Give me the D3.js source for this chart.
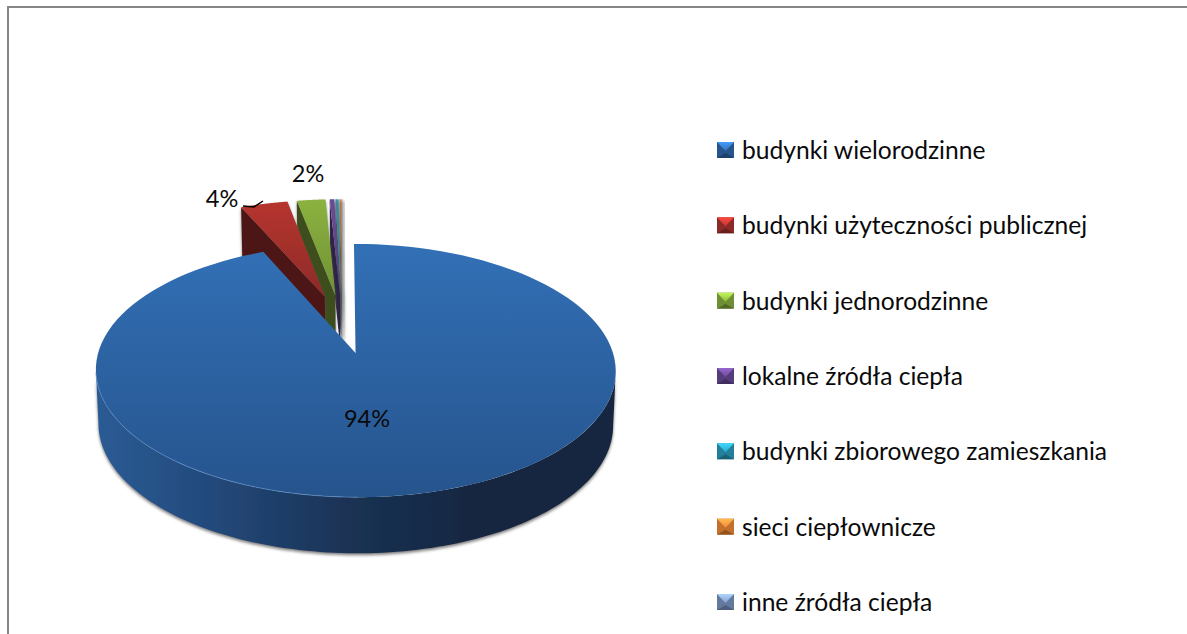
<!DOCTYPE html>
<html>
<head>
<meta charset="utf-8">
<script src="https://cdn.jsdelivr.net/npm/d3@7"></script>
<style>
  html, body { margin: 0; padding: 0; background: #fff; overflow: hidden; }
  text { font-family: Lato, "Open Sans", sans-serif; fill: #0a0a0a; }
</style>
</head>
<body>
<script>
const categories = ["budynki wielorodzinne", "budynki użyteczności publicznej", "budynki jednorodzinne",
    "lokalne źródła ciepła", "budynki zbiorowego zamieszkania", "sieci ciepłownicze", "inne źródła ciepła"];
const values = [93.5, 3.55, 2.15, 0.35, 0.25, 0.17, 0.03];
const shownLabels = [true, true, true, false, false, false, false];

function main(){
    const width = 1187, height = 634;

    const topColors = ["#3270b6", "#b8352f", "#8cb33f", "#6b4a96", "#2a9fc2", "#e8873a", "#7f9ac6"];
    const bottomColors = ["#26548d", "#8c2a28", "#6f8f35", "#573c7c", "#237f9c", "#c46f2c", "#64799e"];
    const wallColors = ["#1a3050", "#4d1513", "#3d4d1c", "#2e2045", "#134858", "#6a3a10", "#3a4860"];

    // perspective of the pie plane, fitted on the picture
    const x0 = 342.5, y0 = 323.6, R = 249, Y = 116.2, p = 0.134, explode = 0.25;
    const project = (u, v) => {
        const w = 1 - p * v;
        return [x0 + R * u / w, y0 + Y * v / w];
    };
    const depthAt = v => 53 + 2.5 * v;
    const lower = (u, v) => {
        const pt = project(u, v);
        return [356 + (pt[0] - 356) * 0.99, pt[1] + depthAt(v)];
    };

    const svg = d3.select("body").append("svg")
        .attr("width", width)
        .attr("height", height)
        .style("display", "block");

    const defs = svg.append("defs");

    const shadow = defs.append("filter").attr("id", "shadow")
        .attr("x", "-20%").attr("y", "-20%").attr("width", "140%").attr("height", "140%");
    shadow.append("feDropShadow").attr("dx", 0).attr("dy", 2).attr("stdDeviation", 1.6)
        .attr("flood-color", "#555").attr("flood-opacity", 0.75);

    const sideShadow = defs.append("filter").attr("id", "sideShadow")
        .attr("x", "-100%").attr("y", "-20%").attr("width", "300%").attr("height", "140%");
    sideShadow.append("feDropShadow").attr("dx", 3).attr("dy", 2).attr("stdDeviation", 1.5)
        .attr("flood-color", "#666").attr("flood-opacity", 0.6);

    const blur = defs.append("filter").attr("id", "rimBlur");
    blur.append("feGaussianBlur").attr("stdDeviation", 0.5);

    categories.forEach((c, i) => {
        const g = defs.append("linearGradient").attr("id", "face" + i)
            .attr("gradientUnits", "userSpaceOnUse")
            .attr("x1", 0).attr("x2", 0)
            .attr("y1", i === 0 ? 244 : 197).attr("y2", i === 0 ? 497 : 300);
        g.append("stop").attr("offset", 0).attr("stop-color", topColors[i]);
        g.append("stop").attr("offset", 1).attr("stop-color", bottomColors[i]);

        const m = defs.append("linearGradient").attr("id", "mark" + i)
            .attr("x1", 0).attr("x2", 0).attr("y1", 0).attr("y2", 1);
        m.append("stop").attr("offset", 0).attr("stop-color", d3.color(topColors[i]).brighter(0.9));
        m.append("stop").attr("offset", 1).attr("stop-color", d3.color(topColors[i]).brighter(0.1));
    });

    const wallGrad = defs.append("linearGradient").attr("id", "wall0")
        .attr("gradientUnits", "userSpaceOnUse")
        .attr("x1", 97).attr("x2", 616).attr("y1", 0).attr("y2", 0);
    [[0, "#2b5b94"], [0.2, "#234b7e"], [0.5, "#1a3152"], [0.75, "#12263f"], [1, "#14283f"]].forEach(s => {
        wallGrad.append("stop").attr("offset", s[0]).attr("stop-color", s[1]);
    });

    svg.append("path")
        .attr("d", d3.line()([[8, height], [8, 7], [width, 7]]))
        .attr("fill", "none")
        .attr("stroke", "#868686")
        .attr("stroke-width", 2);

    const pie = d3.pie().sort(null).value(d => d);
    const arcs = pie(values);
    const line = d3.line();

    arcs.forEach(a => {
        const mid = (a.startAngle + a.endAngle) / 2;
        a.cu = explode * Math.sin(mid);
        a.cv = -explode * Math.cos(mid);
        a.rim = t => [a.cu + Math.sin(t), a.cv - Math.cos(t)];
    });

    const sample = (a, from, to) => d3.range(0, 121).map(k => a.rim(from + (to - from) * k / 120));

    const chart = svg.append("g");

    // back slices first, the far right one first, blue last
    d3.range(arcs.length - 1, 0, -1).forEach(i => {
        const a = arcs[i];
        const g = chart.append("g").attr("filter", i > 2 ? "url(#sideShadow)" : "url(#shadow)");
        const corner = a.rim(a.startAngle);
        g.append("path")
            .attr("d", line([project(...corner), project(a.cu, a.cv), lower(a.cu, a.cv), lower(...corner)]) + "Z")
            .attr("fill", wallColors[i]);
        const face = [project(a.cu, a.cv)].concat(sample(a, a.startAngle, a.endAngle).map(q => project(...q)));
        g.append("path")
            .attr("d", line(face) + "Z")
            .attr("fill", "url(#face" + i + ")");
    });

    const blue = arcs[0];
    // the wall runs between the two widest points of the rim
    const rimAngles = d3.range(0, 721).map(k => k * Math.PI / 360);
    const rimX = t => project(...blue.rim(t))[0];
    const rightMost = d3.greatest(rimAngles, t => rimX(t));
    const leftMost = d3.least(rimAngles, t => rimX(t));
    const front = sample(blue, rightMost, leftMost);
    const gBlue = chart.append("g");
    gBlue.append("path")
        .attr("d", line(front.map(q => project(...q)).concat(front.slice().reverse().map(q => lower(...q)))) + "Z")
        .attr("fill", "url(#wall0)")
        .attr("filter", "url(#shadow)");
    const blueFace = [project(blue.cu, blue.cv)].concat(sample(blue, blue.startAngle, blue.endAngle).map(q => project(...q)));
    gBlue.append("path")
        .attr("d", line(blueFace) + "Z")
        .attr("fill", "url(#face0)");
    gBlue.append("path")
        .attr("d", line(sample(blue, Math.PI * 1.0, Math.PI * 1.45).map(q => project(...q))))
        .attr("fill", "none")
        .attr("stroke", "#5d8cc6")
        .attr("stroke-width", 1)
        .attr("opacity", 0.7)
        .attr("filter", "url(#rimBlur)");

    // data labels
    const labelPos = [[367, 418], [222, 198], [308, 173]];
    const fmt = d3.format(".0%");
    values.forEach((v, i) => {
        if (!shownLabels[i]) return;
        svg.append("text")
            .attr("x", labelPos[i][0])
            .attr("y", labelPos[i][1])
            .attr("text-anchor", "middle")
            .attr("dominant-baseline", "central")
            .style("font-size", "23.5px")
            .text(fmt(v / 100));
    });
    svg.append("path")
        .attr("d", d3.line()([[243, 206], [254, 207], [263, 201]]))
        .attr("fill", "none")
        .attr("stroke", "#000")
        .attr("stroke-width", 1.5);

    // legend
    const legendY = d3.scalePoint().domain(categories).range([150, 602]);
    const mw = 17, mh = 16;
    const legend = svg.selectAll(".legend")
        .data(categories)
        .enter().append("g")
        .attr("class", "legend")
        .attr("transform", d => "translate(717," + (legendY(d) - mh / 2) + ")");

    legend.append("rect")
        .attr("width", mw).attr("height", mh)
        .attr("fill", (d, i) => bottomColors[i]);
    legend.append("path")
        .attr("d", d3.line()([[0, mh], [mw / 2, mh - 5], [mw, mh]]) + "Z")
        .attr("fill", (d, i) => wallColors[i])
        .attr("opacity", 0.55);
    legend.append("path")
        .attr("d", d3.line()([[0, 0], [mw, 0], [mw / 2, mh / 2 + 1]]) + "Z")
        .attr("fill", (d, i) => "url(#mark" + i + ")");
    legend.append("text")
        .attr("x", 25)
        .attr("y", mh / 2 - 0.5)
        .attr("dominant-baseline", "central")
        .style("font-size", "24.6px")
        .text(d => d);
}
main();
</script>
</body>
</html>
